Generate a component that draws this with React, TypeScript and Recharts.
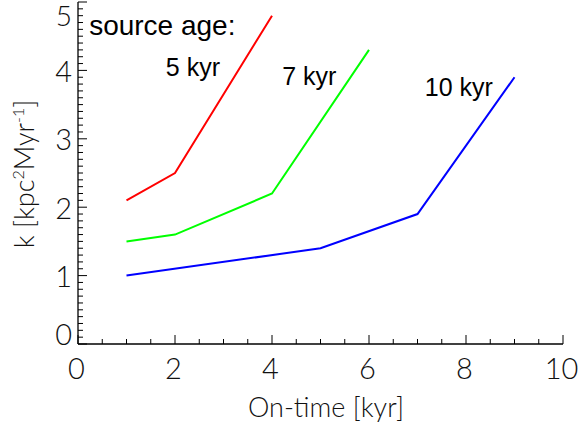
import React from "react";
import { LineChart, Line, XAxis, YAxis, ReferenceDot } from "recharts";

// On-time [kyr] and k values for each source age
const onTime5 = [1, 2, 4];
const k5 = [2.1, 2.5, 4.8];
const onTime7 = [1, 2, 4, 6];
const k7 = [1.5, 1.6, 2.2, 4.3];
const onTime10 = [1, 5, 7, 9];
const k10 = [1.0, 1.4, 1.9, 3.9];

const xMajorTicks = [0, 2, 4, 6, 8, 10];
const yMajorTicks = [0, 1, 2, 3, 4, 5];

const annotations = [
  { x: 0.23, y: 4.52, text: "source age:", size: 28 },
  { x: 1.81, y: 3.92, text: "5 kyr", size: 25 },
  { x: 4.21, y: 3.79, text: "7 kyr", size: 25 },
  { x: 7.15, y: 3.63, text: "10 kyr", size: 25 },
];

const toPoints = (xs: number[], ys: number[]) => xs.map((t, i) => ({ t, k: ys[i] }));
const red = toPoints(onTime5, k5);
const green = toPoints(onTime7, k7);
const blue = toPoints(onTime10, k10);

const xTicks: number[] = [];
for (let i = 0; i <= 20; i++) xTicks.push(i / 2);
const yTicks: number[] = [];
for (let i = 0; i <= 50; i++) yTicks.push(Math.round(i) / 10);

const TICK_FONT = "Lato, 'Open Sans', sans-serif";
const TEXT_FONT = "'Liberation Sans', Arial, sans-serif";
const isMajorX = (v: number) => xMajorTicks.some((m) => Math.abs(m - v) < 1e-6);
const isMajorY = (v: number) => yMajorTicks.some((m) => Math.abs(m - v) < 1e-6);

const XTickBottom = (props: any) => {
  const { x, y, payload } = props;
  const v = payload.value;
  const major = isMajorX(v);
  return (
    <g>
      <line x1={x} x2={x} y1={y} y2={y - (major ? 9 : 5)} stroke="#000" strokeWidth={1} />
      {major && (
        <text x={x - 1.5} y={y + 35} textAnchor="middle" fontFamily={TICK_FONT} fontWeight={300} fontSize={29} fill="#111">
          {v}
        </text>
      )}
    </g>
  );
};

const XTickTop = (props: any) => {
  const { x, y, payload } = props;
  const major = isMajorX(payload.value);
  return <line x1={x} x2={x} y1={y} y2={y + (major ? 9 : 5)} stroke="#000" strokeWidth={1} />;
};

const YTickLeft = (props: any) => {
  const { x, y, payload } = props;
  const v = payload.value;
  const major = isMajorY(v);
  let by = y + 11.5;
  let fs = 29;
  if (v === 5) {
    by = y + 24;
    fs = 28;
  }
  if (v === 0) by = y + 1;
  return (
    <g>
      <line x1={x} x2={x + (major ? 9 : 5)} y1={y} y2={y} stroke="#000" strokeWidth={1} />
      {major && (
        <text x={x - 6} y={by} textAnchor="end" fontFamily={TICK_FONT} fontWeight={300} fontSize={fs} fill="#111">
          {v}
        </text>
      )}
    </g>
  );
};

const YTickRight = (props: any) => {
  const { x, y, payload } = props;
  const major = isMajorY(payload.value);
  return <line x1={x} x2={x - (major ? 9 : 5)} y1={y} y2={y} stroke="#000" strokeWidth={1} />;
};

const YLabel = (props: any) => {
  const vb = props.viewBox;
  const cx = 34;
  const cy = vb.y + vb.height / 2 + 1;
  return (
    <text
      x={cx}
      y={cy}
      transform={`rotate(-90 ${cx} ${cy})`}
      textAnchor="middle"
      fontFamily={TICK_FONT}
      fontWeight={300}
      fontSize={27}
      fill="#111"
    >
      k [kpc
      <tspan dy={-10} fontSize={16}>2</tspan>
      <tspan dy={10}>Myr</tspan>
      <tspan dy={-10} fontSize={16}>-1</tspan>
      <tspan dy={10}>]</tspan>
    </text>
  );
};

const XLabel = () => {
  return (
    <text x={326} y={417} textAnchor="middle" fontFamily={TICK_FONT} fontWeight={300} fontSize={27} fill="#111">
      On-time [kyr]
    </text>
  );
};

const makeAnnot = (text: string, size: number) => (props: any) => {
  const vb = props.viewBox;
  return (
    <text x={vb.x} y={vb.y} fontFamily={TEXT_FONT} fontSize={size} fill="#000">
      {text}
    </text>
  );
};

export default function App() {
  return (
    <div style={{ position: "absolute", left: 0, top: 0, background: "#fff" }}>
      <LineChart width={582} height={427} margin={{ top: 2, right: 19, left: 18, bottom: 23 }}>
        <XAxis
          xAxisId="b"
          dataKey="t"
          type="number"
          domain={[0, 10]}
          ticks={xTicks}
          interval={0}
          tickSize={0}
          tickMargin={0}
          tickLine={false}
          tick={<XTickBottom />}
          height={60}
          axisLine={{ stroke: "#000", strokeWidth: 1.3 }}
          label={<XLabel />}
        />
        <XAxis
          xAxisId="top"
          orientation="top"
          dataKey="t"
          type="number"
          domain={[0, 10]}
          ticks={xTicks}
          interval={0}
          tickSize={0}
          tickMargin={0}
          tickLine={false}
          tick={<XTickTop />}
          height={0}
          axisLine={{ stroke: "#000", strokeWidth: 1.3 }}
        />
        <YAxis
          yAxisId="l"
          type="number"
          domain={[0, 5]}
          ticks={yTicks}
          interval={0}
          tickSize={0}
          tickMargin={0}
          tickLine={false}
          tick={<YTickLeft />}
          width={60}
          axisLine={{ stroke: "#000", strokeWidth: 1.3 }}
          label={<YLabel />}
        />
        <YAxis
          yAxisId="r"
          orientation="right"
          type="number"
          domain={[0, 5]}
          ticks={yTicks}
          interval={0}
          tickSize={0}
          tickMargin={0}
          tickLine={false}
          tick={<YTickRight />}
          width={0}
          axisLine={{ stroke: "#000", strokeWidth: 1.3 }}
        />
        <Line xAxisId="b" yAxisId="l" data={red} dataKey="k" stroke="#ff0000" strokeWidth={2} dot={false} isAnimationActive={false} />
        <Line xAxisId="b" yAxisId="l" data={green} dataKey="k" stroke="#00ff00" strokeWidth={2} dot={false} isAnimationActive={false} />
        <Line xAxisId="b" yAxisId="l" data={blue} dataKey="k" stroke="#0000ff" strokeWidth={2} dot={false} isAnimationActive={false} />
        {annotations.map((a) => (
          <ReferenceDot
            key={a.text}
            xAxisId="b"
            yAxisId="l"
            x={a.x}
            y={a.y}
            r={0}
            fill="none"
            stroke="none"
            label={makeAnnot(a.text, a.size)}
          />
        ))}
      </LineChart>
    </div>
  );
}
